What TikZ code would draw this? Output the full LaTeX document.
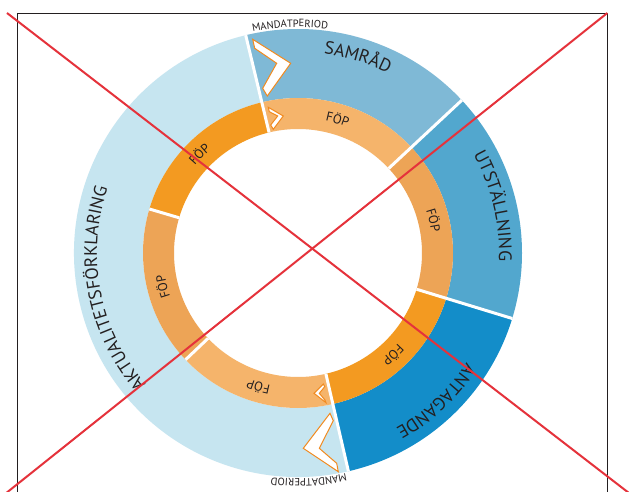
\documentclass[tikz,border=0pt]{standalone}
\usepackage{fontspec}
\setmainfont{PT Sans}
\usetikzlibrary{decorations.text}
\definecolor{lblue}{HTML}{C6E5F0}
\definecolor{sblue}{HTML}{7FB9D6}
\definecolor{ublue}{HTML}{52A7CE}
\definecolor{ablue}{HTML}{138DC9}
\definecolor{lorange}{HTML}{F5B46B}
\definecolor{morange}{HTML}{EDA456}
\definecolor{dorange}{HTML}{F39A21}
\definecolor{chev}{HTML}{F18A1F}
\definecolor{txt}{HTML}{231F20}
\definecolor{redx}{HTML}{E5323B}
% color, start angle, end angle, inner radius, outer radius
\newcommand\ringsector[5]{%
  \fill[#1] (#2:#4) arc[start angle=#2, end angle=#3, radius=#4] -- (#3:#5)
    arc[start angle=#3, end angle=#2, radius=#5] -- cycle;}
% font size, baseline radius, centre angle, half span, text
\newcommand\arclabel[5]{%
  \path[decorate, decoration={text along path, text align=center,
      text={|\fontsize{#1}{#1}\selectfont\color{txt}|#5}}]
    ({#3+#4}:#2) arc[start angle={#3+#4}, end angle={#3-#4}, radius=#2];}
\tikzset{
  chevron/.style={fill=white, draw=chev, line width=1pt, line join=miter},
  divider/.style={draw=white, line width=3pt},
  redline/.style={draw=redx, line width=2pt},
  frameline/.style={draw=txt, line width=0.9pt}
}
\begin{document}
\begin{tikzpicture}[x=1pt,y=1pt]
\clip (-298,-239) rectangle (331,253);
\fill[white] (-298,-239) rectangle (331,253);
% outer ring
\ringsector{lblue}{103.5}{283}{155pt}{224pt}
\ringsector{sblue}{43}{103.5}{155pt}{224pt}
\ringsector{ublue}{-17}{43}{155pt}{224pt}
\ringsector{ablue}{-77}{-17}{155pt}{224pt}
% inner ring
\ringsector{dorange}{103.5}{163.5}{124pt}{155pt}
\ringsector{morange}{163.5}{223.5}{124pt}{155pt}
\ringsector{lorange}{223.5}{283}{124pt}{155pt}
\ringsector{lorange}{43}{103.5}{124pt}{155pt}
\ringsector{morange}{-17}{43}{124pt}{155pt}
\ringsector{dorange}{-77}{-17}{124pt}{155pt}
% dividers
\foreach \a in {103.5,43,-17,-77}{\draw[divider] (\a:124pt) -- (\a:224pt);}
\foreach \a in {163.5,223.5}{\draw[divider] (\a:124pt) -- (\a:155pt);}
% chevrons (mandate period markers)
\draw[chevron] (-45.3,213.7) -- (-7.3,189.7) -- (-30.7,157) -- (-35.3,164.7) -- (-21.3,189.7) -- (-43.3,204.7) -- cycle;
\draw[chevron] (-29.7,145.7) -- (-14.7,137) -- (-24.7,123.7) -- (-27.3,128) -- (-20.3,137) -- (-28.7,141.3) -- cycle;
\draw[chevron] (40.3,-218.7) -- (5.3,-195.3) -- (32,-160.3) -- (35.3,-167.7) -- (21.3,-195.3) -- (38.7,-210.3) -- cycle;
\draw[chevron] (28,-149.7) -- (16,-140.3) -- (25.3,-131) -- (26.7,-133.7) -- (21.3,-140.3) -- (27,-147) -- cycle;
% labels of the outer ring
\arclabel{18}{201pt}{73}{29}{SAMRÅD}
\arclabel{18}{201pt}{13.5}{29}{UTSTÄLLNING}
\arclabel{18}{201pt}{-47}{29}{ANTAGANDE}
\arclabel{18}{201pt}{191}{80}{AKTUALITETSFÖRKLARING}
% FÖP labels
\foreach \c in {73.5,13.5,-47,253.5,194,135}{\arclabel{13}{135pt}{\c}{25}{FÖP}}
% mandate period labels
\arclabel{10.5}{226pt}{92}{20}{MANDATPERIOD}
\arclabel{10.5}{226pt}{272.7}{20}{MANDATPERIOD}
% frame
\draw[frameline] (-280.7,-260) -- (-280.7,239.7) -- (309.3,239.7) -- (309.3,-260);
% red cross
\coordinate (r1a) at (-291,240);
\coordinate (r1b) at (333,-241.6);
\coordinate (r2a) at (309.3,240);
\coordinate (r2b) at (-293,-241);
\draw[redline] (r1a) -- (r1b);
\draw[redline] (r2a) -- (r2b);
\end{tikzpicture}
\end{document}
